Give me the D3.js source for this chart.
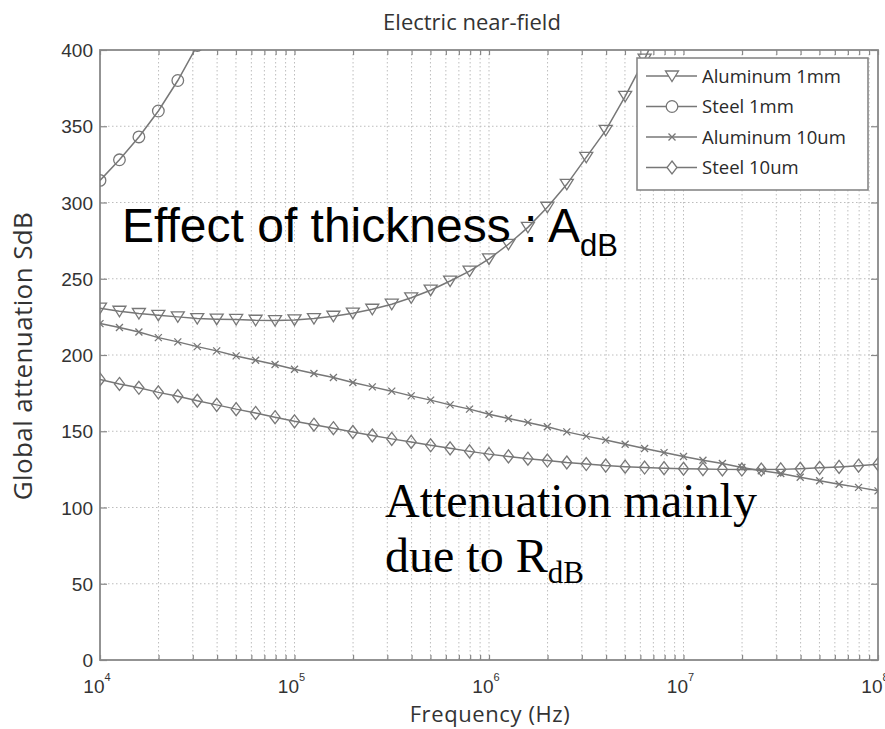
<!DOCTYPE html>
<html>
<head>
<meta charset="utf-8">
<script src="https://cdn.jsdelivr.net/npm/d3@7"></script>
<style>
  html, body { margin: 0; padding: 0; background: #fff; }
  svg { display: block; }
</style>
</head>
<body>
<svg id="chart" width="885" height="729"></svg>
<script>
// ---------------- DATA ----------------
const logFreq = [4.0, 4.1, 4.2, 4.3, 4.4, 4.5, 4.6, 4.7, 4.8, 4.9,
                 5.0, 5.1, 5.2, 5.3, 5.4, 5.5, 5.6, 5.7, 5.8, 5.9,
                 6.0, 6.1, 6.2, 6.3, 6.4, 6.5, 6.6, 6.7, 6.8, 6.9,
                 7.0, 7.1, 7.2, 7.3, 7.4, 7.5, 7.6, 7.7, 7.8, 7.9, 8.0];

const aluminum1mm = [230.7, 228.7, 227.2, 226.0, 225.0, 223.9, 223.5, 223.3, 222.8, 222.6,
                     223.0, 223.9, 225.4, 227.4, 230.0, 233.3, 237.5, 242.5, 248.5, 255.0,
                     263.0, 272.6, 283.7, 296.9, 311.9, 329.6, 347.3, 369.6, 394.0, 422.0];

const steel1mm = [314.5, 328.0, 343.0, 360.0, 380.0, 403.0, 428.0];

const aluminum10um = [220.6, 218.0, 215.1, 211.4, 208.6, 205.5, 202.7, 199.4, 196.6, 193.8,
                      190.7, 187.9, 185.2, 182.0, 179.1, 176.3, 173.2, 170.4, 167.3, 164.5,
                      161.2, 158.4, 155.8, 152.9, 149.6, 146.8, 144.2, 141.5, 138.7, 136.0,
                      133.4, 131.0, 128.9, 126.2, 124.1, 122.3, 119.8, 117.5, 115.3, 113.2, 110.9];

const steel10um = [184.0, 181.0, 178.5, 175.5, 173.0, 170.0, 167.3, 164.5, 162.0, 159.2,
                   156.5, 154.3, 152.0, 149.5, 147.2, 145.0, 143.0, 140.8, 138.8, 136.8,
                   135.0, 133.5, 132.0, 130.8, 129.5, 128.5, 127.5, 126.8, 126.2, 125.8,
                   125.4, 125.2, 125.0, 124.9, 124.9, 125.0, 125.4, 126.0, 126.6, 127.4, 128.4];

const seriesNames = ["Aluminum 1mm", "Steel 1mm", "Aluminum 10um", "Steel 10um"];
const seriesMarkers = ["triangle", "circle", "cross", "diamond"];
const yTicks = [0, 50, 100, 150, 200, 250, 300, 350, 400];
const xMajorExponents = [4, 5, 6, 7, 8];

const titleText = "Electric near-field";
const xLabelText = "Frequency (Hz)";
const yLabelText = "Global attenuation SdB";

// ---------------- LAYOUT ----------------
const svg = d3.select("#chart");
const L = 100, R = 878, T = 50, B = 660;
const x = d3.scaleLog().domain([1e4, 1e8]).range([L, R]);
const y = d3.scaleLinear().domain([0, 400]).range([B, T]);

const lineColor = "#777";
const gridColor = "#bdbdbd";
const frameColor = "#888";
const textColor = "#333";

svg.append("rect").attr("width", 885).attr("height", 729).attr("fill", "#fff");

svg.append("defs").append("clipPath").attr("id", "plotclip")
  .append("rect").attr("x", L).attr("y", T).attr("width", R - L).attr("height", B - T);

const logTicks = [];
for (const e of [4, 5, 6, 7]) {
  for (let m = 1; m <= 9; m++) logTicks.push(m * Math.pow(10, e));
}
logTicks.push(1e8);

// grid
const grid = svg.append("g");
grid.selectAll("line.vg").data(logTicks.filter(v => v > 1e4 && v < 1e8)).enter()
  .append("line")
  .attr("x1", d => x(d)).attr("x2", d => x(d))
  .attr("y1", T).attr("y2", B)
  .attr("stroke", gridColor).attr("stroke-width", 1)
  .attr("stroke-dasharray", "1.5,2.5");
grid.selectAll("line.hg").data(yTicks.filter(v => v > 0 && v < 400)).enter()
  .append("line")
  .attr("x1", L).attr("x2", R)
  .attr("y1", d => y(d)).attr("y2", d => y(d))
  .attr("stroke", gridColor).attr("stroke-width", 1)
  .attr("stroke-dasharray", "1.5,2.5");

// axes (ticks inward)
const xAxisB = d3.axisBottom(x).tickValues(logTicks).tickSize(-5).tickFormat("");
const xAxisT = d3.axisTop(x).tickValues(logTicks).tickSize(-5).tickFormat("");
const yAxisL = d3.axisLeft(y).tickValues(yTicks).tickSize(-7).tickFormat("");
const yAxisR = d3.axisRight(y).tickValues(yTicks).tickSize(-7).tickFormat("");

function styleAxis(g) {
  g.select(".domain").remove();
  g.selectAll(".tick line").attr("stroke", frameColor).attr("stroke-width", 1.2);
}
svg.append("g").attr("transform", `translate(0,${B})`).call(xAxisB).call(styleAxis);
svg.append("g").attr("transform", `translate(0,${T})`).call(xAxisT).call(styleAxis);
svg.append("g").attr("transform", `translate(${L},0)`).call(yAxisL).call(styleAxis);
svg.append("g").attr("transform", `translate(${R},0)`).call(yAxisR).call(styleAxis);

svg.append("rect").attr("x", L).attr("y", T).attr("width", R - L).attr("height", B - T)
  .attr("fill", "none").attr("stroke", frameColor).attr("stroke-width", 1.8);

// y tick labels
svg.append("g").selectAll("text").data(yTicks).enter().append("text")
  .attr("x", L - 7).attr("y", d => y(d) + 7)
  .attr("text-anchor", "end")
  .attr("font-family", "Liberation Sans, Arial, sans-serif")
  .attr("font-size", 19)
  .attr("fill", textColor)
  .text(d => d);

// x tick labels 10^n
const xl = svg.append("g").selectAll("text").data(xMajorExponents).enter().append("text")
  .attr("x", d => x(Math.pow(10, d)) - 3).attr("y", 693)
  .attr("text-anchor", "middle")
  .attr("font-family", "Liberation Sans, Arial, sans-serif")
  .attr("font-size", 19)
  .attr("fill", textColor);
xl.append("tspan").text("10");
xl.append("tspan").attr("dy", -12).attr("font-size", 11).text(d => d);

// titles
svg.append("text").attr("x", 472).attr("y", 30).attr("text-anchor", "middle")
  .attr("font-family", "Open Sans, sans-serif").attr("font-size", 22)
  .attr("fill", textColor).text(titleText);
svg.append("text").attr("x", 490).attr("y", 722).attr("text-anchor", "middle")
  .attr("font-family", "Open Sans, sans-serif").attr("font-size", 22)
  .attr("letter-spacing", 0.6)
  .attr("fill", textColor).text(xLabelText);
svg.append("text").attr("transform", "translate(32,356) rotate(-90)")
  .attr("text-anchor", "middle")
  .attr("font-family", "Open Sans, sans-serif").attr("font-size", 26)
  .attr("letter-spacing", 0.4)
  .attr("fill", textColor).text(yLabelText);

// markers
function markerPath(type) {
  switch (type) {
    case "triangle": return "M-6.5,-5 L6.5,-5 L0,5.5 Z";
    case "circle": return d3.symbol().type(d3.symbolCircle).size(Math.PI * 5.8 * 5.8)();
    case "cross": return "M-3.5,-3.5 L3.5,3.5 M-3.5,3.5 L3.5,-3.5";
    case "diamond": return "M0,-6.5 L5,0 L0,6.5 L-5,0 Z";
  }
}

const allSeries = [aluminum1mm, steel1mm, aluminum10um, steel10um];
const plot = svg.append("g").attr("clip-path", "url(#plotclip)");
const line = d3.line().x(d => x(d[0])).y(d => y(d[1]));

allSeries.forEach((vals, si) => {
  const pts = vals.map((v, i) => [Math.pow(10, logFreq[i]), v]);
  plot.append("path").datum(pts)
    .attr("d", line).attr("fill", "none")
    .attr("stroke", lineColor).attr("stroke-width", 1.5);
  plot.selectAll(null).data(pts).enter().append("path")
    .attr("transform", d => `translate(${x(d[0])},${y(d[1])})`)
    .attr("d", markerPath(seriesMarkers[si]))
    .attr("fill", "none").attr("stroke", lineColor).attr("stroke-width", 1.3);
});

// legend
const lg = svg.append("g");
lg.append("rect").attr("x", 637).attr("y", 58).attr("width", 231).attr("height", 132)
  .attr("fill", "#fff").attr("stroke", frameColor).attr("stroke-width", 1.6);
seriesNames.forEach((name, i) => {
  const cy = 76 + i * 30.5;
  lg.append("line").attr("x1", 646).attr("x2", 697).attr("y1", cy).attr("y2", cy)
    .attr("stroke", lineColor).attr("stroke-width", 1.5);
  lg.append("path").attr("transform", `translate(672,${cy})`)
    .attr("d", markerPath(seriesMarkers[i]))
    .attr("fill", "#fff").attr("stroke", lineColor).attr("stroke-width", 1.3);
  lg.append("text").attr("x", 702).attr("y", cy + 6.5)
    .attr("font-family", "Open Sans, sans-serif").attr("font-size", 18.5)
    .attr("fill", "#2a2a2a").text(name);
});

// annotations
const a1 = svg.append("text").attr("x", 122).attr("y", 242)
  .attr("font-family", "Liberation Sans, Arial, sans-serif")
  .attr("font-size", 48).attr("fill", "#000");
a1.append("tspan").text("Effect of thickness : A");
a1.append("tspan").attr("font-size", 31).attr("dy", 14).text("dB");

const a2 = svg.append("text")
  .attr("font-family", "Liberation Serif, Times New Roman, serif")
  .attr("font-size", 48).attr("fill", "#000");
a2.append("tspan").attr("x", 385).attr("y", 517).text("Attenuation mainly");
const a3 = svg.append("text")
  .attr("font-family", "Liberation Serif, Times New Roman, serif")
  .attr("font-size", 48).attr("fill", "#000");
a3.append("tspan").attr("x", 385).attr("y", 572).text("due to R");
a3.append("tspan").attr("font-size", 31).attr("dy", 11).text("dB");
</script>
</body>
</html>
